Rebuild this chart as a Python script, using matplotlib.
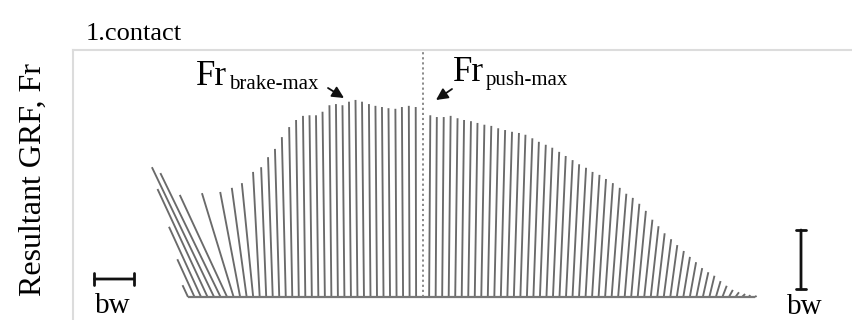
import matplotlib.pyplot as plt
import numpy as np
from matplotlib.collections import LineCollection

plt.rcParams['font.family'] = ['Liberation Serif', 'DejaVu Serif']

# resultant GRF vectors of the first contact, one every 2 ms
# vertical component Fz and horizontal component Fx, in body weights (bw)
fz = [0.20, 0.64, 1.19, 1.83, 2.20, 2.10, 1.73, 1.76, 1.78, 1.85,
      1.93, 2.12, 2.20, 2.37, 2.51, 2.71, 2.88, 3.00, 3.07, 3.08,
      3.08, 3.14, 3.25, 3.27, 3.25, 3.31, 3.34, 3.31, 3.27, 3.24,
      3.22, 3.20, 3.19, 3.22, 3.24, 3.22, 3.17, 3.08, 3.05, 3.05,
      3.07, 3.03, 3.00, 2.98, 2.95, 2.92, 2.90, 2.86, 2.83, 2.80,
      2.78, 2.75, 2.69, 2.63, 2.58, 2.53, 2.46, 2.39, 2.32, 2.25,
      2.19, 2.12, 2.07, 2.00, 1.93, 1.85, 1.75, 1.68, 1.58, 1.46,
      1.31, 1.20, 1.08, 0.98, 0.88, 0.78, 0.68, 0.59, 0.49, 0.42,
      0.36, 0.27, 0.19, 0.12, 0.08, 0.05, 0.03, 0.02]
fx = [-0.14, -0.44, -0.82, -1.28, -1.59, -1.54, -1.21, -0.81, -0.51, -0.38,
      -0.29, -0.17, -0.13, -0.12, -0.11, -0.10, -0.08, -0.07, -0.06, -0.06,
      -0.06, -0.06, -0.05, -0.05, -0.05, -0.05, -0.05, -0.05, -0.04, -0.04,
      -0.04, -0.04, -0.03, -0.03, -0.02, -0.01, 0.00, 0.03, 0.03, 0.04,
      0.05, 0.06, 0.06, 0.07, 0.07, 0.08, 0.09, 0.10, 0.11, 0.12,
      0.13, 0.13, 0.14, 0.14, 0.15, 0.15, 0.16, 0.16, 0.17, 0.17,
      0.18, 0.18, 0.19, 0.19, 0.20, 0.21, 0.21, 0.21, 0.21, 0.21,
      0.21, 0.20, 0.19, 0.19, 0.18, 0.18, 0.17, 0.16, 0.15, 0.14,
      0.13, 0.12, 0.11, 0.10, 0.09, 0.08, 0.05, 0.04]
DT_MS = 2.0
t = np.arange(len(fz)) * DT_MS

# layout (pixels of an 852x320 picture)
W, H = 852, 320
BASE_X, BASE_Y = 188, 297
PX_PER_MS = (755 - BASE_X) / t[-1]
PX_PER_BW = 59.0
H_MS_PER_BW = 12.0   # horizontal force drawn at 12 ms per bw

fig = plt.figure(figsize=(W / 100, H / 100), dpi=100)
ax = fig.add_axes([0, 0, 1, 1])
ax.axis('off')
ax.set_xlim(-BASE_X / PX_PER_MS, (W - BASE_X) / PX_PER_MS)
ax.set_ylim(-(H - BASE_Y) / PX_PER_BW, BASE_Y / PX_PER_BW)


def fpx(x, y):
    return x / W, 1 - y / H


# panel frame (top and left edge)
fig.add_artist(plt.Line2D([73 / W, 1], [1 - 50 / H] * 2, color='#dcdcdc', lw=1.5))
fig.add_artist(plt.Line2D([73 / W] * 2, [0, 1 - 50 / H], color='#dcdcdc', lw=1.5))

# vectors
i_switch = int(np.argmin(np.abs(fx)))
segs = [[(ti, 0), (ti + x * H_MS_PER_BW, z)]
        for k, (ti, x, z) in enumerate(zip(t, fx, fz)) if k != i_switch]
ax.add_collection(LineCollection(segs, colors='#6a6a6a', linewidths=1.35))
ax.plot([t[0], t[-1]], [0, 0], color='#777777', lw=1.6, solid_capstyle='butt')

# brake / push transition
ax.plot([t[i_switch]] * 2, [0, (BASE_Y - 52) / PX_PER_BW], color='#808080',
        lw=1.3, ls=(0, (1.2, 1.6)))

# scale bars (1 bw)
cx = (114 - BASE_X) / PX_PER_MS
cy = (BASE_Y - 279) / PX_PER_BW
ax.annotate('', xy=(cx + H_MS_PER_BW / 2, cy), xytext=(cx - H_MS_PER_BW / 2, cy),
            arrowprops=dict(arrowstyle='|-|,widthA=0.4,widthB=0.4', lw=2,
                            color='#111111', shrinkA=0, shrinkB=0))
rx = (801 - BASE_X) / PX_PER_MS
ry = (BASE_Y - 289) / PX_PER_BW
ax.annotate('', xy=(rx, ry + 1), xytext=(rx, ry),
            arrowprops=dict(arrowstyle='|-|,widthA=0.35,widthB=0.35', lw=2,
                            color='#111111', shrinkA=0, shrinkB=0))

# texts
fig.text(*fpx(86, 40), '1.contact', fontsize=19, va='baseline')
fig.text(*fpx(33, 180), 'Resultant GRF, Fr', fontsize=23, rotation=90,
         ha='center', va='center')
fig.text(*fpx(113, 313), 'bw', fontsize=21, ha='center', va='baseline')
fig.text(*fpx(805, 314), 'bw', fontsize=21, ha='center', va='baseline')

fig.text(*fpx(196, 85), 'Fr', fontsize=25, va='baseline')
fig.text(*fpx(229, 89), 'brake-max', fontsize=15, va='baseline')
fig.text(*fpx(453, 81), 'Fr', fontsize=25, va='baseline')
fig.text(*fpx(486, 85), 'push-max', fontsize=15, va='baseline')

arrow = dict(arrowstyle='-|>,head_length=0.7,head_width=0.35', lw=1.3,
             color='#111111', shrinkA=0, shrinkB=0)
ax.annotate('', xy=fpx(344, 98), xytext=fpx(328, 88),
            xycoords='figure fraction', textcoords='figure fraction', arrowprops=arrow)
ax.annotate('', xy=fpx(436, 100), xytext=fpx(452, 89),
            xycoords='figure fraction', textcoords='figure fraction', arrowprops=arrow)

fig.savefig('out.png', dpi=100)
